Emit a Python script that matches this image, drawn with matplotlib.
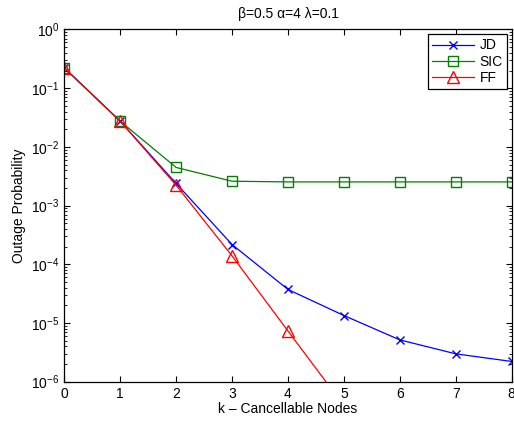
import matplotlib.pyplot as plt
import numpy as np

plt.rcParams["font.family"] = ["Liberation Sans", "DejaVu Sans"]
plt.rcParams["mathtext.fontset"] = "custom"
plt.rcParams["mathtext.rm"] = "Liberation Sans"

k = [0, 1, 2, 3, 4, 5, 6, 7, 8]
jd = [0.222, 0.0274, 0.00238, 2.17e-4, 3.72e-5, 1.34e-5, 5.15e-6, 2.98e-6, 2.21e-6]
sic = [0.222, 0.0274, 0.00446, 0.0026, 0.00253, 0.00253, 0.00253, 0.00253, 0.00253]
k_ff = [0, 1, 2, 3, 4, 5]
ff = [0.222, 0.0274, 0.00222, 1.39e-4, 7.3e-6, 3.9e-7]

fig = plt.figure(figsize=(5.14, 4.21), dpi=100)
ax = fig.add_axes([0.125, 0.0934, 0.8705, 0.8366])

ax.semilogy(k, jd, color="b", marker="x", markersize=5.5, lw=0.9, label="JD")
ax.semilogy(k, sic, color=(0, 0.5, 0), marker="s", markersize=7,
            markerfacecolor="none", lw=0.9, label="SIC")
ax.semilogy(k_ff, ff, color="r", marker="^", markersize=9,
            markerfacecolor="none", lw=0.9, label="FF")

ax.set_xlim(0, 8)
ax.set_ylim(1e-6, 1)
ax.set_xticks(range(9))
ax.set_yticks([1e-6, 1e-5, 1e-4, 1e-3, 1e-2, 1e-1, 1])
ax.tick_params(which="both", direction="in", top=True, right=True, labelsize=10)
ax.tick_params(which="major", length=4)
ax.tick_params(which="minor", length=2)
for s in ax.spines.values():
    s.set_linewidth(0.9)

ax.set_xlabel("k \u2013 Cancellable Nodes", fontsize=10, labelpad=1)
ax.set_ylabel("Outage Probability", fontsize=10)
ax.set_title("\u03b2=0.5 \u03b1=4 \u03bb=0.1", fontsize=10, pad=8)

leg = ax.legend(loc="upper right", fontsize=10, fancybox=False,
                framealpha=1, edgecolor="k", borderaxespad=0.35,
                handlelength=3.0, labelspacing=0.15, borderpad=0.3,
                handletextpad=0.4)
leg.get_frame().set_linewidth(0.9)

plt.savefig("out.png", dpi=100)
